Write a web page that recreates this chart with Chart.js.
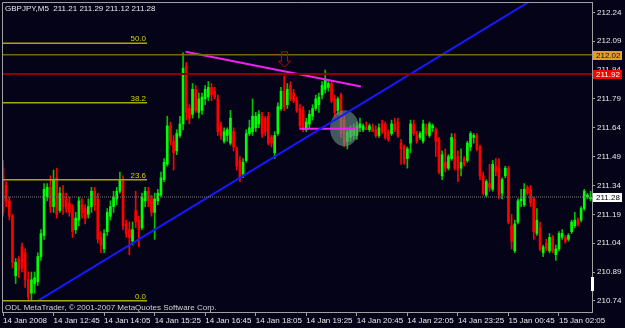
<!DOCTYPE html>
<html>
<head>
<meta charset="utf-8">
<script src="https://cdn.jsdelivr.net/npm/chart.js@4.4.0/dist/chart.umd.min.js"></script>
<style>
  html, body { margin: 0; padding: 0; background: #050318; }
  #wrap { position: relative; width: 625px; height: 328px; }
</style>
</head>
<body>
<div id="wrap"><canvas id="chart"></canvas></div>
<script>
// GBPJPY M5, 14-15 Jan 2008, one entry per bar
const opens = [211.43,211.34,211.26,211.18,210.87,210.96,211.02,210.99,210.85,210.78,210.83,210.84,210.97,211.08,211.28,211.33,211.23,211.38,211.21,211.30,
  211.27,211.25,211.22,211.11,211.16,211.24,211.22,211.19,211.23,211.31,211.27,211.07,211.01,211.10,211.18,211.23,211.27,211.31,211.37,211.14,
  211.11,211.05,211.21,211.16,211.12,211.26,211.31,211.27,211.20,211.26,211.29,211.37,211.45,211.65,211.57,211.52,211.60,211.66,211.96,211.74,
  211.71,211.84,211.72,211.73,211.79,211.80,211.85,211.83,211.79,211.65,211.57,211.60,211.56,211.62,211.53,211.47,211.40,211.47,211.61,211.62,
  211.64,211.66,211.70,211.69,211.70,211.59,211.51,211.61,211.74,211.83,211.76,211.86,211.82,211.78,211.74,211.73,211.63,211.66,211.70,211.74,
  211.76,211.81,211.84,211.85,211.87,211.79,211.73,211.81,211.68,211.57,211.59,211.60,211.60,211.64,211.63,211.64,211.63,211.64,211.63,211.60,
  211.66,211.66,211.62,211.61,211.66,211.67,211.56,211.54,211.48,211.56,211.66,211.60,211.59,211.57,211.64,211.60,211.64,211.63,211.58,211.39,
  211.46,211.43,211.48,211.58,211.49,211.43,211.48,211.47,211.54,211.59,211.60,211.54,211.39,211.29,211.35,211.32,211.44,211.43,211.30,211.39,
  211.43,211.13,211.00,211.15,211.26,211.24,211.33,211.32,211.27,211.09,211.12,210.99,211.04,211.00,211.07,210.98,211.01,211.07,211.07,211.06,
  211.10,211.13,211.16,211.16,211.22,211.28,211.27];
const highs = [211.47,211.36,211.28,211.19,210.96,210.97,211.04,211.01,210.89,210.89,210.89,210.99,211.11,211.35,211.35,211.39,211.42,211.43,211.33,211.34,
  211.30,211.28,211.24,211.20,211.28,211.27,211.24,211.27,211.33,211.33,211.30,211.10,211.11,211.22,211.26,211.31,211.33,211.41,211.39,211.16,
  211.15,211.15,211.31,211.18,211.30,211.33,211.33,211.29,211.30,211.32,211.41,211.48,211.70,211.67,211.60,211.63,211.70,212.03,211.98,211.76,
  211.87,211.86,211.82,211.82,211.86,211.88,211.87,211.85,211.81,211.67,211.64,211.64,211.73,211.64,211.54,211.49,211.48,211.63,211.68,211.79,
  211.72,211.73,211.72,211.70,211.72,211.60,211.62,211.77,211.85,211.91,211.87,211.88,211.84,211.80,211.76,211.75,211.69,211.73,211.76,211.81,
  211.82,211.88,211.94,211.88,211.88,211.81,211.80,211.82,211.70,211.64,211.65,211.66,211.67,211.69,211.66,211.67,211.66,211.66,211.65,211.66,
  211.68,211.67,211.63,211.68,211.69,211.69,211.58,211.55,211.54,211.68,211.68,211.62,211.62,211.68,211.66,211.67,211.66,211.64,211.59,211.52,
  211.53,211.50,211.61,211.61,211.52,211.53,211.49,211.57,211.62,211.61,211.61,211.55,211.41,211.37,211.45,211.47,211.48,211.48,211.38,211.44,
  211.44,211.19,211.16,211.27,211.32,211.35,211.34,211.34,211.28,211.22,211.15,211.03,211.06,211.09,211.08,211.03,211.10,211.11,211.08,211.09,
  211.16,211.20,211.17,211.23,211.32,211.30,211.31];
const lows = [211.18,211.23,211.16,210.91,210.83,210.86,210.89,210.81,210.74,210.74,210.78,210.82,210.95,211.06,211.26,211.20,211.20,211.17,211.20,211.19,
  211.20,211.18,211.07,211.09,211.13,211.17,211.14,211.17,211.20,211.21,211.04,210.99,210.99,211.08,211.16,211.20,211.24,211.30,211.11,211.07,
  210.98,211.03,211.12,211.02,211.11,211.23,211.23,211.18,211.06,211.24,211.28,211.36,211.44,211.55,211.42,211.50,211.59,211.63,211.68,211.66,
  211.69,211.72,211.69,211.71,211.76,211.78,211.78,211.79,211.60,211.58,211.56,211.57,211.55,211.52,211.42,211.36,211.38,211.46,211.60,211.60,
  211.62,211.64,211.59,211.60,211.55,211.54,211.48,211.60,211.73,211.73,211.74,211.78,211.77,211.72,211.64,211.62,211.62,211.64,211.68,211.73,
  211.72,211.79,211.82,211.83,211.77,211.70,211.71,211.59,211.54,211.53,211.57,211.58,211.58,211.62,211.62,211.63,211.62,211.62,211.59,211.59,
  211.61,211.58,211.57,211.60,211.62,211.59,211.45,211.45,211.43,211.51,211.60,211.56,211.58,211.56,211.60,211.59,211.62,211.49,211.40,211.37,
  211.41,211.42,211.47,211.42,211.36,211.39,211.44,211.46,211.52,211.56,211.52,211.37,211.29,211.28,211.31,211.31,211.39,211.27,211.27,211.38,
  211.14,211.01,210.99,211.14,211.23,211.23,211.29,211.23,211.06,211.08,211.00,210.97,211.00,210.99,210.99,210.95,211.00,211.06,211.04,211.05,
  211.09,211.12,211.13,211.15,211.21,211.27,211.26];
const closes = [211.20,211.26,211.18,210.94,210.94,210.90,210.91,210.85,210.76,210.85,210.86,210.97,211.09,211.32,211.33,211.23,211.37,211.19,211.30,211.23,
  211.22,211.20,211.10,211.17,211.26,211.20,211.17,211.23,211.31,211.24,211.06,211.03,211.09,211.20,211.23,211.28,211.31,211.37,211.13,211.09,
  211.07,211.11,211.15,211.11,211.28,211.31,211.26,211.20,211.27,211.30,211.38,211.46,211.65,211.57,211.51,211.61,211.66,211.95,211.72,211.69,
  211.84,211.73,211.79,211.80,211.84,211.85,211.81,211.80,211.62,211.60,211.62,211.63,211.69,211.54,211.44,211.38,211.46,211.61,211.64,211.70,
  211.70,211.71,211.61,211.62,211.56,211.56,211.60,211.75,211.83,211.75,211.84,211.79,211.78,211.73,211.65,211.63,211.67,211.71,211.74,211.79,
  211.80,211.86,211.89,211.87,211.78,211.72,211.79,211.61,211.56,211.62,211.63,211.63,211.65,211.66,211.65,211.63,211.65,211.62,211.60,211.64,
  211.62,211.59,211.58,211.66,211.63,211.60,211.53,211.46,211.53,211.66,211.61,211.57,211.61,211.66,211.61,211.66,211.65,211.57,211.41,211.50,
  211.43,211.49,211.59,211.43,211.42,211.46,211.45,211.56,211.61,211.60,211.53,211.39,211.30,211.36,211.33,211.45,211.41,211.29,211.37,211.43,
  211.15,211.05,211.14,211.26,211.27,211.32,211.30,211.25,211.10,211.16,211.01,211.02,211.01,211.07,211.00,211.01,211.09,211.09,211.05,211.08,
  211.15,211.16,211.14,211.22,211.31,211.29,211.28];

const timeTickIdx = [0, 16, 32, 48, 64, 80, 96, 112, 128, 144, 160, 176];
const timeLabels = ['14 Jan 2008', '14 Jan 12:45', '14 Jan 14:05', '14 Jan 15:25', '14 Jan 16:45', '14 Jan 18:05',
  '14 Jan 19:25', '14 Jan 20:45', '14 Jan 22:05', '14 Jan 23:25', '15 Jan 00:45', '15 Jan 02:05'];
const yTicks = [210.74, 210.89, 211.04, 211.19, 211.34, 211.49, 211.64, 211.79, 211.94, 212.09, 212.24];

// fibonacci retracement drawn over the left part
const fibNames = ['0.0', '23.6', '38.2', '50.0'];
const fibPrices = [210.74, 211.37, 211.77, 212.08];
const fibEnd = 45.6;

// trend lines: [bar, price] pairs
const blueLine = [[11, 210.74], [186, 212.49]];
const magentaLine = [[57.8, 212.035], [113.3, 211.855]];
const magentaFlat = [[93.8, 211.635], [112, 211.635]];
const ellipseAt = [108.1, 211.638];
const arrowAt = [89, 212.035, 211.955];

const levelA = 212.02, levelB = 211.92, bid = 211.28;
const headerText = 'GBPJPY,M5  211.21 211.29 211.12 211.28';

const BG = '#050318';
const GRID = '#a0a0a0';
const FONT = "'Liberation Sans Narrow', 'Liberation Sans', sans-serif";
const xMin = -0.32, xMax = 186.45, yMin = 210.682, yMax = 212.294;

const idx = opens.map((_, i) => i);
const up = idx.map(i => closes[i] >= opens[i]);
const pts = arr => arr.map(p => ({x: p[0], y: p[1]}));

function lineSet(data, color, width, dash) {
  return { type: 'line', data: data, borderColor: color, borderWidth: width, borderDash: dash || [],
    pointRadius: 0, fill: false, tension: 0, order: 0 };
}

const datasets = [
  { type: 'bar', data: idx.map(i => ({x: i, y: [lows[i], highs[i]]})),
    backgroundColor: idx.map(i => up[i] ? '#00c400' : '#ff0000'), barThickness: 1, grouped: false, order: 2 },
  { type: 'bar', data: idx.map(i => ({x: i, y: [opens[i], closes[i]]})),
    backgroundColor: idx.map(i => up[i] ? '#00ff00' : '#ff0000'), barThickness: 2, minBarLength: 1, grouped: false, order: 1 },
  lineSet([{x: xMin, y: levelA}, {x: xMax, y: levelA}], '#7c6410', 1.5),
  lineSet([{x: xMin, y: levelB}, {x: xMax, y: levelB}], '#880000', 2),
  lineSet([{x: xMin, y: bid}, {x: xMax, y: bid}], '#7a7a70', 1, [1, 1]),
];
fibPrices.forEach(p => datasets.push(lineSet([{x: xMin, y: p}, {x: fibEnd, y: p}], '#a8a800', 1.5)));
datasets.push(lineSet(pts(blueLine), '#1818ff', 2));
datasets.push(lineSet(pts(magentaLine), '#f020f0', 2));
datasets.push(lineSet(pts(magentaFlat), '#f020f0', 2));

const mtPlugin = {
  id: 'mt',
  beforeDraw(chart) {
    const c = chart.ctx;
    c.save();
    c.fillStyle = BG;
    c.fillRect(0, 0, chart.width, chart.height);
    c.restore();
  },
  afterDatasetDraw(chart, args) {
    if (args.index !== 1) return;
    const c = chart.ctx, xs = chart.scales.x, ys = chart.scales.y;
    c.save();
    c.fillStyle = 'rgba(105,145,130,0.62)';
    c.beginPath();
    c.ellipse(xs.getPixelForValue(ellipseAt[0]), ys.getPixelForValue(ellipseAt[1]), 14.5, 18, 0, 0, Math.PI * 2);
    c.fill();
    c.restore();
  },
  afterDraw(chart) {
    const c = chart.ctx, xs = chart.scales.x, ys = chart.scales.y, a = chart.chartArea;
    c.save();
    // frame
    c.strokeStyle = GRID;
    c.lineWidth = 1;
    c.beginPath();
    c.moveTo(a.left + 0.5, a.bottom);
    c.lineTo(a.left + 0.5, a.top + 0.5);
    c.lineTo(a.right, a.top + 0.5);
    c.stroke();

    c.font = '8px ' + FONT;
    c.textBaseline = 'alphabetic';
    // fibo labels
    c.fillStyle = '#d4d400';
    c.textAlign = 'right';
    fibPrices.forEach((p, i) => c.fillText(fibNames[i], xs.getPixelForValue(fibEnd) - 1, ys.getPixelForValue(p) - 2));

    // header and copyright
    c.textAlign = 'left';
    c.fillStyle = '#e8e8e8';
    c.fillText(headerText, 5, 11);
    c.fillStyle = '#d0d0d0';
    c.fillText('ODL MetaTrader, \u00a9 2001-2007 MetaQuotes Software Corp.', 5, a.bottom - 2);

    // down arrow
    const ax = Math.round(xs.getPixelForValue(arrowAt[0])) + 0.5;
    const top = ys.getPixelForValue(arrowAt[1]), tip = ys.getPixelForValue(arrowAt[2]);
    const neck = tip - 6;
    c.strokeStyle = '#c80000';
    c.beginPath();
    c.moveTo(ax - 3, top); c.lineTo(ax + 3, top); c.lineTo(ax + 3, neck); c.lineTo(ax + 6, neck);
    c.lineTo(ax, tip); c.lineTo(ax - 6, neck); c.lineTo(ax - 3, neck); c.closePath();
    c.stroke();

    // price boxes on the right scale
    [[levelA, '#e0a028', '#101010'], [levelB, '#ff0000', '#ffffff'], [bid, '#ffffff', '#000000']].forEach(([p, bg, fg]) => {
      const y = Math.round(ys.getPixelForValue(p));
      c.fillStyle = bg;
      c.fillRect(a.right + 1, y - 4, 29, 9);
      c.fillStyle = fg;
      c.fillText(p.toFixed(2), a.right + 4, y + 3);
    });
    c.fillStyle = '#ffffff';
    c.fillRect(a.right - 1, 277, 3, 14);
    c.restore();
  }
};

new Chart(document.getElementById('chart'), {
  type: 'bar',
  data: { datasets: datasets },
  options: {
    responsive: true,
    maintainAspectRatio: false,
    animation: false,
    events: [],
    layout: { padding: { left: 2, top: 2, right: 0, bottom: 0 } },
    plugins: { legend: { display: false }, tooltip: { enabled: false } },
    scales: {
      x: {
        type: 'linear', min: xMin, max: xMax, offset: false,
        afterBuildTicks: s => { s.ticks = timeTickIdx.map(v => ({value: v})); },
        afterFit: s => { s.height = 16; s.paddingLeft = 0; s.paddingRight = 0; },
        ticks: { autoSkip: false, maxRotation: 0, align: 'start', padding: 0, color: '#e8e8e8',
          font: { family: FONT, size: 8 }, callback: v => timeLabels[timeTickIdx.indexOf(v)] },
        grid: { drawOnChartArea: false, offset: false, tickLength: 4, color: GRID },
        border: { color: GRID }
      },
      y: {
        type: 'linear', position: 'right', min: yMin, max: yMax,
        afterBuildTicks: s => { s.ticks = yTicks.map(v => ({value: v})); },
        afterFit: s => { s.width = 33; s.paddingTop = 0; s.paddingBottom = 0; },
        ticks: { padding: 2, color: '#e8e8e8', font: { family: FONT, size: 8 }, callback: v => v.toFixed(2) },
        grid: { drawOnChartArea: false, tickLength: 3, color: GRID },
        border: { color: GRID }
      }
    }
  },
  plugins: [mtPlugin]
});
</script>
</body>
</html>
